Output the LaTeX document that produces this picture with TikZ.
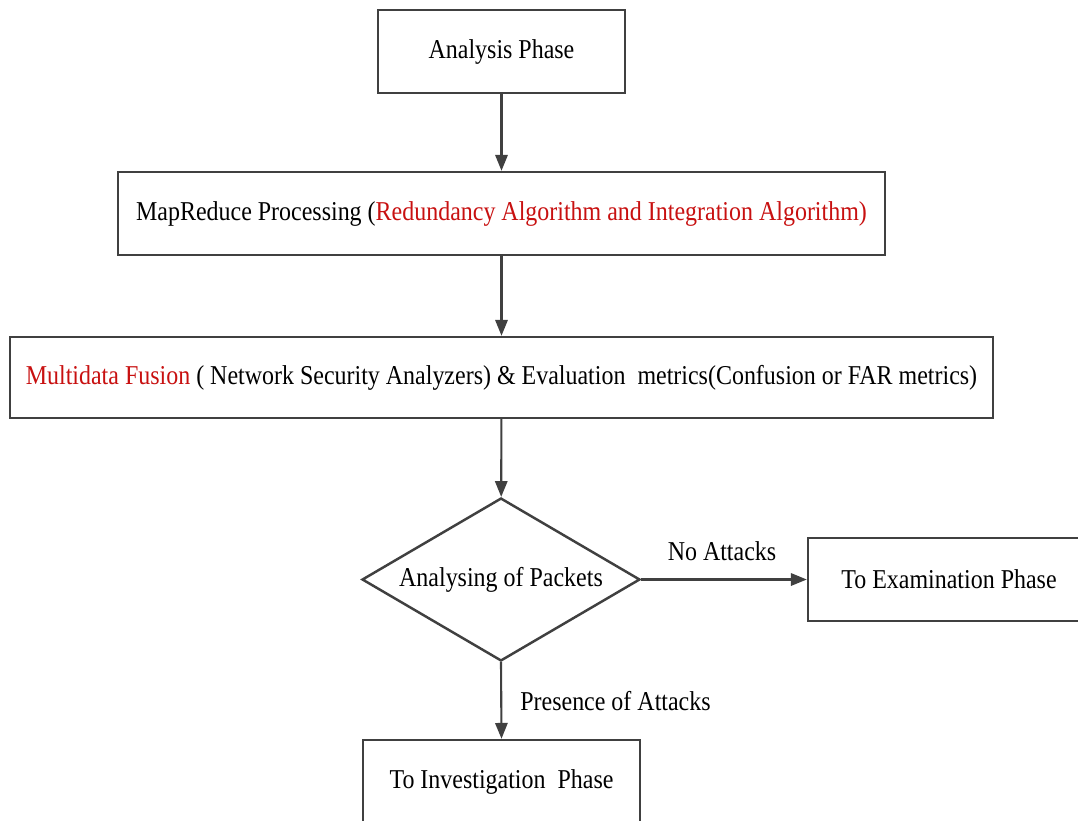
\documentclass[tikz,border=0pt]{standalone}
\usepackage{fontspec}
\setmainfont{Liberation Serif}[FakeStretch=0.88]
\usetikzlibrary{shapes.geometric,arrows.meta,shadows}
\definecolor{edge}{RGB}{64,64,64}
\definecolor{hot}{RGB}{200,16,16}
\begin{document}
\begin{tikzpicture}[x=0.02cm,y=-0.02cm,
  font=\fontsize{15.5}{18}\selectfont,
  stepbox/.style={draw=edge,line width=1.4pt,rectangle,inner sep=0pt,fill=white,
    drop shadow={shadow xshift=0.8pt,shadow yshift=-0.8pt,opacity=0.4}},
  decision/.style={draw=edge,line width=1.4pt,diamond,aspect=1.7,inner sep=0pt,fill=white,
    minimum width=5.56cm,minimum height=3.26cm},
  flow/.style={draw=edge,line width=1.2pt,-{Triangle[length=9pt,width=7pt]}},
  lbl/.style={inner sep=0pt}]
\useasboundingbox (0,0) rectangle (1078,821);
\clip (0,0) rectangle (1078,821);

\node[stepbox,minimum width=4.94cm,minimum height=1.66cm] (ana) at (501.5,51.5) {Analysis Phase};
\node[stepbox,minimum width=15.34cm,minimum height=1.66cm] (mr) at (501.5,213.5)
  {MapReduce Processing (\textcolor{hot}{Redundancy Algorithm and Integration Algorithm)}};
\node[stepbox,minimum width=19.66cm,minimum height=1.62cm] (mf) at (501.5,377.5)
  {\textcolor{hot}{Multidata Fusion} ( Network Security Analyzers) \& Evaluation\ \ metrics(Confusion or FAR metrics)};
\node[decision] (pk) at (501,579.5) {Analysing of Packets};
\node[stepbox,minimum width=5.64cm,minimum height=1.66cm] (ex) at (949,579.5) {To Examination Phase};
\node[stepbox,minimum width=5.54cm,minimum height=1.66cm] (inv) at (501.5,781.5) {To Investigation\ \ Phase};

\draw[flow] (ana) -- (mr);
\draw[flow] (mr) -- (mf);
\draw[flow] (mf) -- (pk);
\draw[flow] (pk.east) -- (ex.west);
\draw[flow] (pk.south) -- (inv.north);

\node[lbl] (no) at (722,551) {No Attacks};
\node[lbl,anchor=west] (yes) at (520,701) {Presence of Attacks};
\end{tikzpicture}
\end{document}
